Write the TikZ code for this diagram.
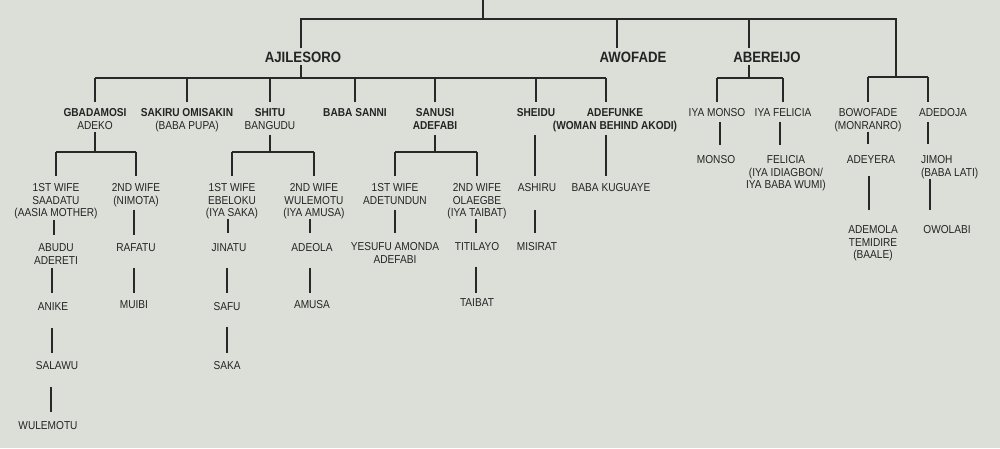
\documentclass[tikz,border=0pt]{standalone}
\usepackage{fontspec}
\setmainfont{Liberation Sans}[FakeStretch=0.88]
\usetikzlibrary{calc}
\definecolor{bgcol}{RGB}{220,223,216}
\definecolor{kintext}{RGB}{36,36,36}
\definecolor{kinline}{RGB}{40,40,40}
\newcommand{\kinsize}{\fontsize{11.5}{12.4}\selectfont}
\newcommand{\topsize}{\fontsize{15}{17}\selectfont\bfseries}
\newcommand{\kinlink}[5]{%
  \draw[link, shorten <=#3pt, shorten >=#4pt] ($(#1.south)+(#5,0)$) -- ($(#1.south |- #2.north)+(#5,0)$);}
\tikzset{
  kin/.style={font=\kinsize, inner sep=0pt, outer sep=0pt, align=center, text=kintext, anchor=north},
  kinbold/.style={kin, font=\kinsize\bfseries},
  topname/.style={kin, font=\topsize},
  link/.style={draw=kinline, line width=1.4pt},
}
\begin{document}
\begin{tikzpicture}[x=1pt,y=-1pt]
\fill[bgcol] (0,0) rectangle (1000,448);
\useasboundingbox (0,0) rectangle (1000,448);

% junction coordinates
\coordinate (root) at (483,-2);
\coordinate (topbar) at (483,19);
\coordinate (rightjct) at (896,77);
\coordinate (ajbar) at (301,78);
\coordinate (abbar) at (749,78);
\coordinate (gbbar) at (95,152);
\coordinate (shbar) at (270,152);
\coordinate (sabar) at (435,152);

% level 1
\node[topname] (ajile) at (303,51.6) {AJILESORO};
\node[topname] (awofade) at (633,51.6) {AWOFADE};
\node[topname] (abereijo) at (767,51.6) {ABEREIJO};

% level 2
\node[kin] (gbad) at (95,108.9) {\textbf{GBADAMOSI}\\ADEKO};
\node[kin] (sakiru) at (187,108.9) {\textbf{SAKIRU OMISAKIN}\\(BABA PUPA)};
\node[kin] (shitu) at (270,108.9) {\textbf{SHITU}\\BANGUDU};
\node[kinbold] (sanni) at (355,108.9) {BABA SANNI};
\node[kinbold] (sanusi) at (435,108.9) {SANUSI\\ADEFABI};
\node[kinbold] (sheidu) at (536,108.9) {SHEIDU};
\node[kinbold] (adefunke) at (615,108.9) {ADEFUNKE\\(WOMAN BEHIND AKODI)};
\node[kin] (iyamonso) at (717,108.9) {IYA MONSO};
\node[kin] (iyafelicia) at (783,108.9) {IYA FELICIA};
\node[kin] (bowofade) at (868,108.9) {BOWOFADE\\(MONRANRO)};
\node[kin] (adedoja) at (943,108.9) {ADEDOJA};

% level 3
\node[kin] (saadatu) at (56,183.9) {1ST WIFE\\SAADATU\\(AASIA MOTHER)};
\node[kin] (nimota) at (136,183.9) {2ND WIFE\\(NIMOTA)};
\node[kin] (ebeloku) at (232,183.9) {1ST WIFE\\EBELOKU\\(IYA SAKA)};
\node[kin] (wulemotuw) at (314,183.9) {2ND WIFE\\WULEMOTU\\(IYA AMUSA)};
\node[kin] (adetundun) at (395,183.9) {1ST WIFE\\ADETUNDUN};
\node[kin] (olaegbe) at (477,183.9) {2ND WIFE\\OLAEGBE\\(IYA TAIBAT)};
\node[kin] (ashiru) at (537,183.9) {ASHIRU};
\node[kin] (kuguaye) at (611,183.9) {BABA KUGUAYE};
\node[kin] (monso) at (716,155.9) {MONSO};
\node[kin] (felicia) at (786,155.9) {FELICIA\\(IYA IDIAGBON/\\IYA BABA WUMI)};
\node[kin] (adeyera) at (871,155.9) {ADEYERA};
\node[kin, align=left, anchor=north west] (jimoh) at (921,155.9) {JIMOH\\(BABA LATI)};

% level 4
\node[kin] (abudu) at (56,243.9) {ABUDU\\ADERETI};
\node[kin] (rafatu) at (136,243.9) {RAFATU};
\node[kin] (jinatu) at (229,243.9) {JINATU};
\node[kin] (adeola) at (312,243.9) {ADEOLA};
\node[kin] (yesufu) at (395,242.9) {YESUFU AMONDA\\ADEFABI};
\node[kin] (titilayo) at (477,242.9) {TITILAYO};
\node[kin] (misirat) at (537,242.9) {MISIRAT};
\node[kin] (ademola) at (873,225.9) {ADEMOLA\\TEMIDIRE\\(BAALE)};
\node[kin] (owolabi) at (947,225.9) {OWOLABI};

% level 5
\node[kin] (anike) at (53,302.9) {ANIKE};
\node[kin] (muibi) at (134,300.9) {MUIBI};
\node[kin] (safu) at (227,302.9) {SAFU};
\node[kin] (amusa) at (312,300.9) {AMUSA};
\node[kin] (taibat) at (477,298.9) {TAIBAT};

% level 6, 7
\node[kin] (salawu) at (57,361.9) {SALAWU};
\node[kin] (saka) at (227,361.9) {SAKA};
\node[kin] (wulemotu) at (48,421.9) {WULEMOTU};

% top connectors
\draw[link] (root) -- (topbar);
\draw[link] ($(ajile.north)+(-2,-3.6)$) |- (rightjct |- topbar) -- (rightjct);
\draw[link] ($(awofade.north)+(-16,-3.6)$) -- ($(awofade.north |- topbar)+(-16,0)$);
\draw[link] ($(abereijo.north)+(-18,-3.6)$) -- ($(abereijo.north |- topbar)+(-18,0)$);

% Ajilesoro fork
\draw[link] ($(ajile.south)+(-2,2.6)$) -- ($(ajile.south |- ajbar)+(-2,0)$);
\draw[link] (gbad.north |- ajbar) -- ($(adefunke.north |- ajbar)+(-9,0)$);
\foreach \c in {gbad,sakiru,shitu,sanni,sanusi,sheidu}
  \draw[link, shorten >=6.9pt] (\c.north |- ajbar) -- (\c.north);
\draw[link] ($(adefunke.north |- ajbar)+(-9,0)$) -- ($(adefunke.north)+(-9,-6.9)$);

% Abereijo fork
\draw[link] ($(abereijo.south)+(-18,2.6)$) -- ($(abereijo.south |- abbar)+(-18,0)$);
\draw[link] (iyamonso.north |- abbar) -- (iyafelicia.north |- abbar);
\foreach \c in {iyamonso,iyafelicia}
  \draw[link, shorten >=6.9pt] (\c.north |- abbar) -- (\c.north);

% right fork
\draw[link] (bowofade.north |- rightjct) -- ($(adedoja.north |- rightjct)+(-15,0)$);
\draw[link, shorten >=6.9pt] (bowofade.north |- rightjct) -- (bowofade.north);
\draw[link] ($(adedoja.north |- rightjct)+(-15,0)$) -- ($(adedoja.north)+(-15,-6.9)$);

% Gbadamosi fork
\draw[link] ($(gbad.south)+(0,2.9)$) -- (gbad.south |- gbbar);
\draw[link] (saadatu.north |- gbbar) -- (nimota.north |- gbbar);
\foreach \c in {saadatu,nimota}
  \draw[link, shorten >=7.9pt] (\c.north |- gbbar) -- (\c.north);

% Shitu fork
\draw[link] ($(shitu.south)+(0,5.9)$) -- (shitu.south |- shbar);
\draw[link] (ebeloku.north |- shbar) -- (wulemotuw.north |- shbar);
\foreach \c in {ebeloku,wulemotuw}
  \draw[link, shorten >=7.9pt] (\c.north |- shbar) -- (\c.north);

% Sanusi fork
\draw[link] ($(sanusi.south)+(0,5.9)$) -- (sanusi.south |- sabar);
\draw[link] (adetundun.north |- sabar) -- (olaegbe.north |- sabar);
\foreach \c in {adetundun,olaegbe}
  \draw[link, shorten >=7.9pt] (\c.north |- sabar) -- (\c.north);

% single links
\kinlink{sheidu}{ashiru}{17.9}{7.9}{-1}
\kinlink{adefunke}{kuguaye}{3.5}{7.9}{-9}
\kinlink{ashiru}{misirat}{17.9}{9.9}{-2}
\kinlink{saadatu}{abudu}{0.7}{8.9}{-2}
\kinlink{nimota}{rafatu}{3.1}{8.9}{-2}
\kinlink{ebeloku}{jinatu}{0}{10.9}{-4}
\kinlink{wulemotuw}{adeola}{0}{10.9}{-4}
\kinlink{adetundun}{yesufu}{5.5}{9.9}{0}
\kinlink{olaegbe}{titilayo}{0}{9.9}{-1}
\kinlink{abudu}{anike}{3.5}{9.9}{-4}
\kinlink{rafatu}{muibi}{15.9}{7.9}{-2}
\kinlink{jinatu}{safu}{15.9}{9.9}{-2}
\kinlink{adeola}{amusa}{15.9}{7.9}{-2}
\kinlink{titilayo}{taibat}{15.9}{5.9}{-1}
\kinlink{anike}{salawu}{16.9}{8.9}{-1}
\kinlink{safu}{saka}{15.9}{8.9}{0}
\kinlink{salawu}{wulemotu}{16.9}{9.9}{-6}
\kinlink{iyamonso}{monso}{4.9}{10.9}{3}
\kinlink{iyafelicia}{felicia}{4.9}{10.9}{-3}
\kinlink{bowofade}{adeyera}{0}{11.9}{0}
\kinlink{adedoja}{jimoh}{4.9}{11.9}{-15}
\kinlink{adeyera}{ademola}{12.6}{15.9}{-2}
\draw[link, shorten >=15.9pt] ($(jimoh.south west)+(9,0)$) -- ($(jimoh.south west |- owolabi.north)+(9,0)$);
\end{tikzpicture}
\end{document}
